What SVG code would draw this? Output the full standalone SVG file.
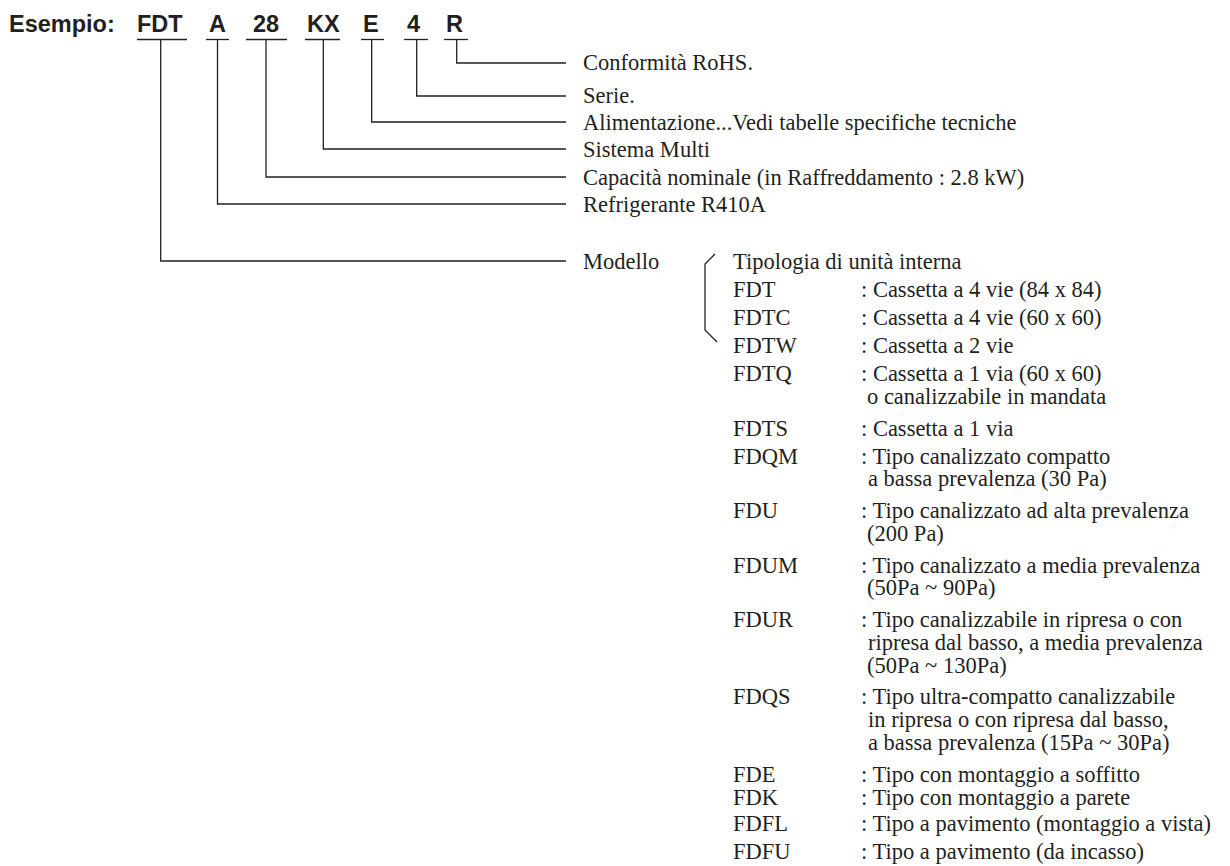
<svg xmlns="http://www.w3.org/2000/svg" width="1230" height="866" viewBox="0 0 1230 866">
<style>
.hd{font-family:"Liberation Sans",Arial,sans-serif;font-weight:bold;font-size:23.5px;fill:#231f20}
.t{font-family:"Liberation Serif","Times New Roman",serif;font-size:22.5px;fill:#231f20}
.ln{fill:none;stroke:#231f20;stroke-width:1.3}
</style>
<rect width="1230" height="866" fill="#fff"/>
<g id="title"><text class="hd" x="9" y="32">Esempio:</text></g>
<g id="code-FDT"><text class="hd" x="137" y="32">FDT</text><line class="ln" x1="137" y1="39.5" x2="187" y2="39.5"/></g>
<g id="code-A"><text class="hd" x="209" y="32">A</text><line class="ln" x1="206" y1="39.5" x2="229" y2="39.5"/></g>
<g id="code-28"><text class="hd" x="253" y="32">28</text><line class="ln" x1="246" y1="39.5" x2="287" y2="39.5"/></g>
<g id="code-KX"><text class="hd" x="307" y="32">KX</text><line class="ln" x1="305" y1="39.5" x2="340" y2="39.5"/></g>
<g id="code-E"><text class="hd" x="363" y="32">E</text><line class="ln" x1="361" y1="39.5" x2="384" y2="39.5"/></g>
<g id="code-4"><text class="hd" x="407" y="32">4</text><line class="ln" x1="404" y1="39.5" x2="428" y2="39.5"/></g>
<g id="code-R"><text class="hd" x="446" y="32">R</text><line class="ln" x1="444" y1="39.5" x2="468" y2="39.5"/></g>
<g id="connectors">
<polyline class="ln" points="456.7,39.5 456.7,63 566,63"/>
<polyline class="ln" points="416.7,39.5 416.7,96 566,96"/>
<polyline class="ln" points="371.7,39.5 371.7,122 566,122"/>
<polyline class="ln" points="323.3,39.5 323.3,149 566,149"/>
<polyline class="ln" points="266,39.5 266,177 566,177"/>
<polyline class="ln" points="217.5,39.5 217.5,204 566,204"/>
<polyline class="ln" points="160.7,39.5 160.7,261 566,261"/>
</g>
<g id="label-rohs"><text class="t" x="583" y="70">Conformità RoHS.</text></g>
<g id="label-serie"><text class="t" x="583" y="103">Serie.</text></g>
<g id="label-alim"><text class="t" x="583" y="129.5">Alimentazione...Vedi tabelle specifiche tecniche</text></g>
<g id="label-multi"><text class="t" x="583" y="156.5">Sistema Multi</text></g>
<g id="label-cap"><text class="t" x="583" y="184.5">Capacità nominale (in Raffreddamento : 2.8 kW)</text></g>
<g id="label-refr"><text class="t" x="583" y="211.5">Refrigerante R410A</text></g>
<g id="label-modello"><text class="t" x="583" y="268.5">Modello</text></g>
<g id="bracket"><polyline class="ln" points="715,254 705,264 705,330 717,342"/></g>
<g id="list">
<text class="t" x="733" y="268.5">Tipologia di unità interna</text>
<text class="t" x="733" y="296.6">FDT</text><text class="t" x="861" y="296.6">: Cassetta a 4 vie (84 x 84)</text>
<text class="t" x="733" y="324.7">FDTC</text><text class="t" x="861" y="324.7">: Cassetta a 4 vie (60 x 60)</text>
<text class="t" x="733" y="352.9">FDTW</text><text class="t" x="861" y="352.9">: Cassetta a 2 vie</text>
<text class="t" x="733" y="381">FDTQ</text><text class="t" x="861" y="381">: Cassetta a 1 via (60 x 60)</text>
<text class="t" x="867" y="403.8">o canalizzabile in mandata</text>
<text class="t" x="733" y="435.5">FDTS</text><text class="t" x="861" y="435.5">: Cassetta a 1 via</text>
<text class="t" x="733" y="463.6">FDQM</text><text class="t" x="861" y="463.6">: Tipo canalizzato compatto</text>
<text class="t" x="868" y="486.4">a bassa prevalenza (30 Pa)</text>
<text class="t" x="733" y="518">FDU</text><text class="t" x="861" y="518">: Tipo canalizzato ad alta prevalenza</text>
<text class="t" x="867" y="540.9">(200 Pa)</text>
<text class="t" x="733" y="572.5">FDUM</text><text class="t" x="861" y="572.5">: Tipo canalizzato a media prevalenza</text>
<text class="t" x="867" y="595.4">(50Pa ~ 90Pa)</text>
<text class="t" x="733" y="627">FDUR</text><text class="t" x="861" y="627">: Tipo canalizzabile in ripresa o con</text>
<text class="t" x="868" y="649.9">ripresa dal basso, a media prevalenza</text>
<text class="t" x="867" y="672.7">(50Pa ~ 130Pa)</text>
<text class="t" x="733" y="704.4">FDQS</text><text class="t" x="861" y="704.4">: Tipo ultra-compatto canalizzabile</text>
<text class="t" x="868" y="727.2">in ripresa o con ripresa dal basso,</text>
<text class="t" x="868" y="750">a bassa prevalenza (15Pa ~ 30Pa)</text>
<text class="t" x="733" y="781.7">FDE</text><text class="t" x="861" y="781.7">: Tipo con montaggio a soffitto</text>
<text class="t" x="733" y="804.5">FDK</text><text class="t" x="861" y="804.5">: Tipo con montaggio a parete</text>
<text class="t" x="733" y="830.9">FDFL</text><text class="t" x="861" y="830.9">: Tipo a pavimento (montaggio a vista)</text>
<text class="t" x="733" y="859">FDFU</text><text class="t" x="861" y="859">: Tipo a pavimento (da incasso)</text>
</g>
</svg>
